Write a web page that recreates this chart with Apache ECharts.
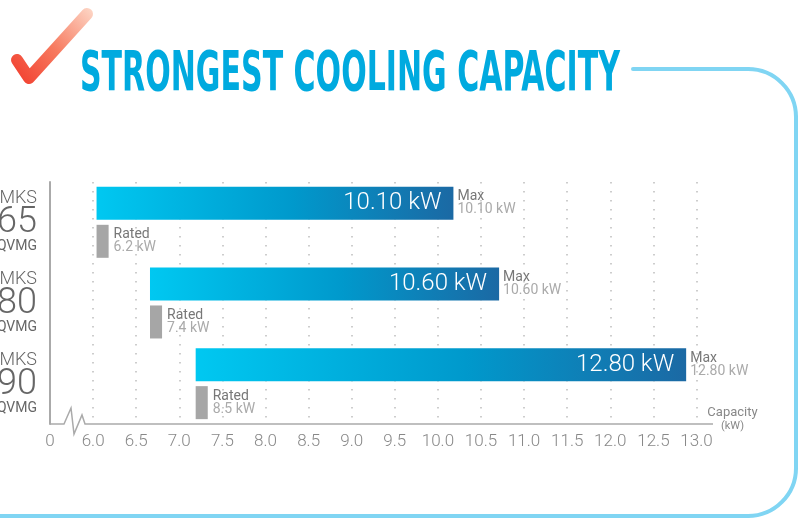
<!DOCTYPE html>
<html>
<head>
<meta charset="utf-8">
<title>Strongest Cooling Capacity</title>
<script src="https://cdn.jsdelivr.net/npm/echarts@6/dist/echarts.min.js"></script>
<style>
  html, body { margin: 0; padding: 0; background: #fff; }
  #chartDiv { width: 798px; height: 518px; }
</style>
</head>
<body>
<div id="chartDiv"></div>
<script>
// 数据
var models = ['65', '80', '90'];
var maxFrom = [6.04, 6.66, 7.19];
var maxTo = [10.18, 10.71, 12.88];
var maxText = ['10.10 kW', '10.60 kW', '12.80 kW'];
var ratedFrom = [6.04, 6.66, 7.19];
var ratedTo = [6.18, 6.80, 7.33];
var ratedText = ['6.2 kW', '7.4 kW', '8.5 kW'];
var axisMin = 5.5;   // shown as "0" (broken axis)
var axisMax = 13.0;

var titleText = 'STRONGEST COOLING CAPACITY';
var numFont = 'Roboto';
var frameColor = '#80d5f3';

var chartDiv;

function spans(from, to) {
    return from.map(function (v, i) { return +(to[i] - v).toFixed(3); });
}

// 标题宽度：压缩字体到参考宽度
function titleScale() {
    var ctx = document.createElement('canvas').getContext('2d');
    ctx.font = 'bold 55px "DejaVu Sans Condensed"';
    return 540 / ctx.measureText(titleText).width;
}

function frameLine(x1, y1, x2, y2) {
    return {
        type: 'line',
        shape: { x1: x1, y1: y1, x2: x2, y2: y2 },
        style: { stroke: frameColor, lineWidth: 4, lineCap: 'round' }
    };
}

function frameArc(cx, cy, a0, a1) {
    return {
        type: 'arc',
        shape: { cx: cx, cy: cy, r: 48, startAngle: a0, endAngle: a1, clockwise: true },
        style: { stroke: frameColor, lineWidth: 4, fill: null }
    };
}

window.onload = function () {
    chartDiv = echarts.init(document.getElementById('chartDiv'));
    var option = {
        animation: false,
        grid: { left: 50, right: 101.5, top: 182, bottom: 94, containLabel: false, outerBoundsMode: 'none' },
        xAxis: {
            type: 'value',
            min: axisMin,
            max: axisMax,
            interval: 0.5,
            axisLine: { show: false },
            axisTick: { show: false },
            axisLabel: {
                margin: 9,
                color: '#888',
                fontSize: 17,
                fontFamily: numFont,
                fontWeight: 300,
                formatter: function (v) { return v === axisMin ? '0' : v.toFixed(1); }
            },
            splitLine: {
                show: true,
                showMinLine: false,
                lineStyle: { color: '#bdbdbd', width: 1.5, type: [1.5, 7.5] }
            },
            name: '{a|Capacity}\n{b|(kW)}',
            nameLocation: 'end',
            nameGap: 36,
            nameTextStyle: {
                align: 'center',
                padding: [0, 0, 10, 0],
                rich: {
                    a: { fontSize: 13, color: '#888', fontFamily: numFont, lineHeight: 15, align: 'center' },
                    b: { fontSize: 11, color: '#888', fontFamily: numFont, lineHeight: 13, align: 'center' }
                }
            }
        },
        yAxis: {
            type: 'category',
            data: models,
            inverse: true,
            axisLine: { show: true, lineStyle: { color: '#aaaaaa', width: 2 } },
            axisTick: { show: false },
            axisLabel: {
                margin: 13,
                align: 'right',
                formatter: function (v) { return '{a|MKS}\n{b|' + v + '}\n{c|QVMG}'; },
                rich: {
                    a: { fontSize: 18, color: '#666', fontFamily: numFont, fontWeight: 300, lineHeight: 18, align: 'right' },
                    b: { fontSize: 36, color: '#666', fontFamily: numFont, fontWeight: 300, lineHeight: 31, align: 'right' },
                    c: { fontSize: 14, color: '#666', fontFamily: numFont, lineHeight: 16, align: 'right' }
                }
            }
        },
        series: [
            {
                type: 'bar', stack: 'max', barWidth: 33, barGap: '15%',
                itemStyle: { color: 'transparent' },
                data: maxFrom
            },
            {
                type: 'bar', stack: 'max', barWidth: 33,
                data: spans(maxFrom, maxTo),
                itemStyle: {
                    color: new echarts.graphic.LinearGradient(0, 0, 1, 0, [
                        { offset: 0, color: '#00c8f1' },
                        { offset: 0.55, color: '#0099cc' },
                        { offset: 1, color: '#1b69a4' }
                    ])
                },
                label: {
                    show: true,
                    position: 'insideRight',
                    distance: 12,
                    color: '#fff',
                    fontSize: 24,
                    fontFamily: numFont,
                    fontWeight: 300,
                    formatter: function (p) { return maxText[p.dataIndex]; }
                }
            },
            {
                // 右侧 Max 注释
                type: 'bar', stack: 'max', barWidth: 33,
                itemStyle: { color: 'transparent' },
                data: models.map(function () { return 0; }),
                label: {
                    show: true,
                    position: 'right',
                    distance: 4,
                    formatter: function (p) { return '{a|Max}\n{b|' + maxText[p.dataIndex] + '}'; },
                    rich: {
                        a: { fontSize: 14, color: '#777', fontFamily: numFont, lineHeight: 13 },
                        b: { fontSize: 14, color: '#aaa', fontFamily: numFont, lineHeight: 13 }
                    }
                }
            },
            {
                type: 'bar', stack: 'rated', barWidth: 33,
                itemStyle: { color: 'transparent' },
                data: ratedFrom
            },
            {
                type: 'bar', stack: 'rated', barWidth: 33,
                itemStyle: { color: '#a6a6a6' },
                data: spans(ratedFrom, ratedTo),
                label: {
                    show: true,
                    position: 'right',
                    distance: 5,
                    formatter: function (p) { return '{a|Rated}\n{b|' + ratedText[p.dataIndex] + '}'; },
                    rich: {
                        a: { fontSize: 14, color: '#777', fontFamily: numFont, lineHeight: 13 },
                        b: { fontSize: 14, color: '#aaa', fontFamily: numFont, lineHeight: 13 }
                    }
                }
            }
        ],
        graphic: [
            {
                // 勾
                type: 'polyline',
                shape: { points: [[17, 60], [29, 78], [87, 14]] },
                style: {
                    lineWidth: 12, lineCap: 'round', lineJoin: 'round', fill: null,
                    stroke: new echarts.graphic.LinearGradient(0, 1, 1, 0, [
                        { offset: 0, color: '#f1392a' },
                        { offset: 0.5, color: '#f77a5f' },
                        { offset: 1, color: '#fdd8c8' }
                    ])
                }
            },
            {
                type: 'text',
                x: 80, y: 76,
                scaleX: titleScale(), scaleY: 1,
                originX: 0, originY: 0,
                style: {
                    text: titleText,
                    font: 'bold 55px "DejaVu Sans Condensed"',
                    fill: '#00aadf',
                    textVerticalAlign: 'middle'
                }
            },
            // 边框
            frameLine(633, 69, 748, 69),
            frameArc(748, 117, -Math.PI / 2, 0),
            frameLine(796, 117, 796, 468),
            frameArc(748, 468, 0, Math.PI / 2),
            frameLine(748, 516, -5, 516),
            {
                // 断轴
                type: 'polyline',
                shape: { points: [[50, 424], [64, 424], [71, 408], [74, 434], [82, 415], [85, 424], [713, 424]] },
                style: { stroke: '#aaaaaa', lineWidth: 1.5, fill: null }
            }
        ]
    };
    chartDiv.setOption(option);
};
</script>
</body>
</html>
